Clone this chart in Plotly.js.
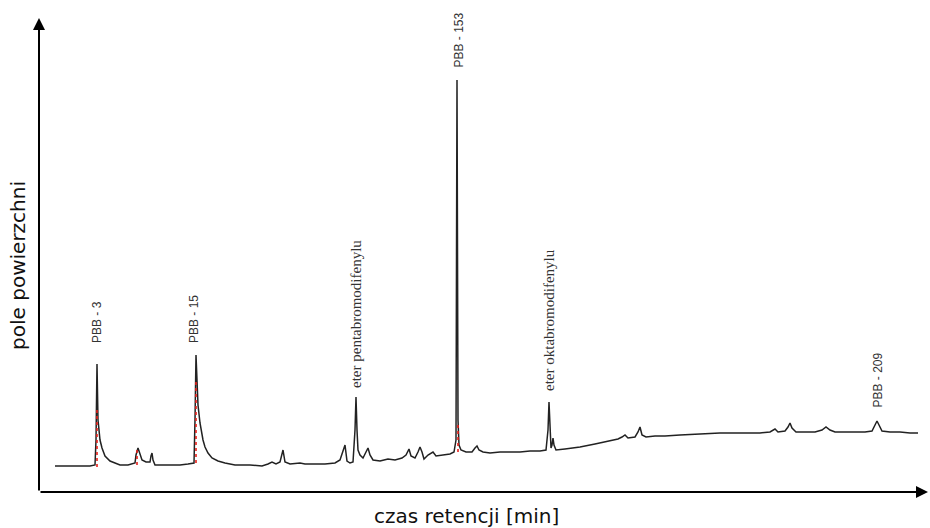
<!DOCTYPE html>
<html>
<head>
<meta charset="utf-8">
<script src="https://cdn.plot.ly/plotly-3.0.1.min.js"></script>
<style>html,body{margin:0;padding:0;background:#fff}#chart{width:930px;height:528px}</style>
</head>
<body>
<div id="chart"></div>
<script>
// retention time (arbitrary units) and detector signal (arbitrary units)
const time = [16,31,41,51,56,57,58,59,61,63,66,71,81,89,96,97,99,101,103,107,111,112,113,114,116,131,141,149,155,156,157,158,159,161,164,166,169,173,179,186,196,211,223,229,233,237,241,244,246,251,261,266,276,286,296,301,306,308,311,314,316,317,318,319,321,324,327,329,331,334,341,349,356,363,367,370,372,376,379,381,383,385,389,394,397,406,411,415,417,418,419,420,422,427,433,436,438,440,444,451,461,471,481,491,501,507,509,510,511,512,513,514,515,517,526,541,556,571,579,583,586,589,596,599,601,603,607,616,626,641,661,681,701,721,731,736,739,746,749,751,753,757,766,776,783,787,791,796,811,826,833,836,838,840,843,851,861,871,879];
const signal = [26,26,25.5,26,27,52,128,72,52,44,36,31,27,27,29,37,44,37,32,30,30,36,39,32,27,27,27,28,29,72,137,112,87,69,52,45,39,34,31,29,27,27,26,28,30,28,30,42,30,28,29,28,28,28,29,32,47,31,29,30,62,95,62,42,37,34,40,44,37,32,31,33,32,34,37,43,36,34,40,45,40,33,37,40,36,37,38,40,52,412,72,47,42,40,40,44,46,42,40,39,40,40,40,41,41,42,62,90,62,44,47,54,47,42,43,45,48,51,53,55,57,54,55,60,65,57,55,56,56,57,58,59,59,59,60,63,60,61,65,69,64,60,60,60,62,65,62,60,60,60,61,67,71,67,61,60,60,59,59];

// integration marks (red dotted) : time, lower and upper signal
const markTime = [58, 98, 157, 419];
const markLow  = [25, 27, 29, 40];
const markHigh = [82, 44, 112, 67];

// peak labels
const peakNames = ["PBB - 3", "PBB - 15", "eter pentabromodifenylu", "PBB - 153", "eter oktabromodifenylu", "PBB - 209"];
const peakTime  = [58, 155, 317, 419, 510, 838];
const labelBase = [147, 147, 102, 422, 99, 82];
const peakFont  = ["sans", "sans", "serif", "sans", "serif", "sans"];

const xTitle = "czas retencji [min]";
const yTitle = "pole powierzchni";

const mx = [], my = [];
markTime.forEach((t, i) => { mx.push(t, t, null); my.push(markLow[i], markHigh[i], null); });

const traces = [
  {x: time, y: signal, type: "scatter", mode: "lines", line: {color: "#222", width: 1.5}, hoverinfo: "skip"},
  {x: mx, y: my, type: "scatter", mode: "lines", line: {color: "#e8201a", width: 1.6, dash: "dot"}, hoverinfo: "skip", connectgaps: false}
];

const annotations = peakNames.map((n, i) => ({
  x: peakTime[i], y: labelBase[i], xref: "x", yref: "y",
  text: n, textangle: -90, showarrow: false,
  xanchor: "center", yanchor: "bottom",
  font: peakFont[i] === "serif"
    ? {family: "Liberation Serif, Times New Roman, serif", size: 15, color: "#333"}
    : {family: "Liberation Sans, Arial, sans-serif", size: 12, color: "#333"}
}));

// axis arrows
annotations.push({x: 0, y: 1, xref: "paper", yref: "paper", ax: 0, ay: 474, axref: "pixel", ayref: "pixel",
  text: "", showarrow: true, arrowhead: 2, arrowsize: 1.2, arrowwidth: 2, arrowcolor: "#000"});
annotations.push({x: 1, y: 0, xref: "paper", yref: "paper", ax: -889, ay: 0, axref: "pixel", ayref: "pixel",
  text: "", showarrow: true, arrowhead: 2, arrowsize: 1.2, arrowwidth: 2, arrowcolor: "#000"});

// axis titles
annotations.push({x: 0.481, y: 0, xref: "paper", yref: "paper", yshift: -24, text: xTitle, showarrow: false,
  xanchor: "center", yanchor: "middle", font: {family: "DejaVu Sans, sans-serif", size: 20, color: "#111"}});
annotations.push({x: 0, y: 0.477, xref: "paper", yref: "paper", xshift: -21, text: yTitle, showarrow: false, textangle: -90,
  xanchor: "center", yanchor: "middle", font: {family: "DejaVu Sans, sans-serif", size: 20, color: "#111"}});

const layout = {
  width: 930, height: 528,
  margin: {l: 39, r: 2, t: 18, b: 36},
  paper_bgcolor: "#fff", plot_bgcolor: "#fff",
  showlegend: false,
  xaxis: {range: [0, 889], showgrid: false, zeroline: false, showticklabels: false, ticks: "", showline: false},
  yaxis: {range: [0, 474], showgrid: false, zeroline: false, showticklabels: false, ticks: "", showline: false},
  annotations: annotations
};

Plotly.newPlot("chart", traces, layout, {displayModeBar: false, staticPlot: true});
</script>
</body>
</html>
